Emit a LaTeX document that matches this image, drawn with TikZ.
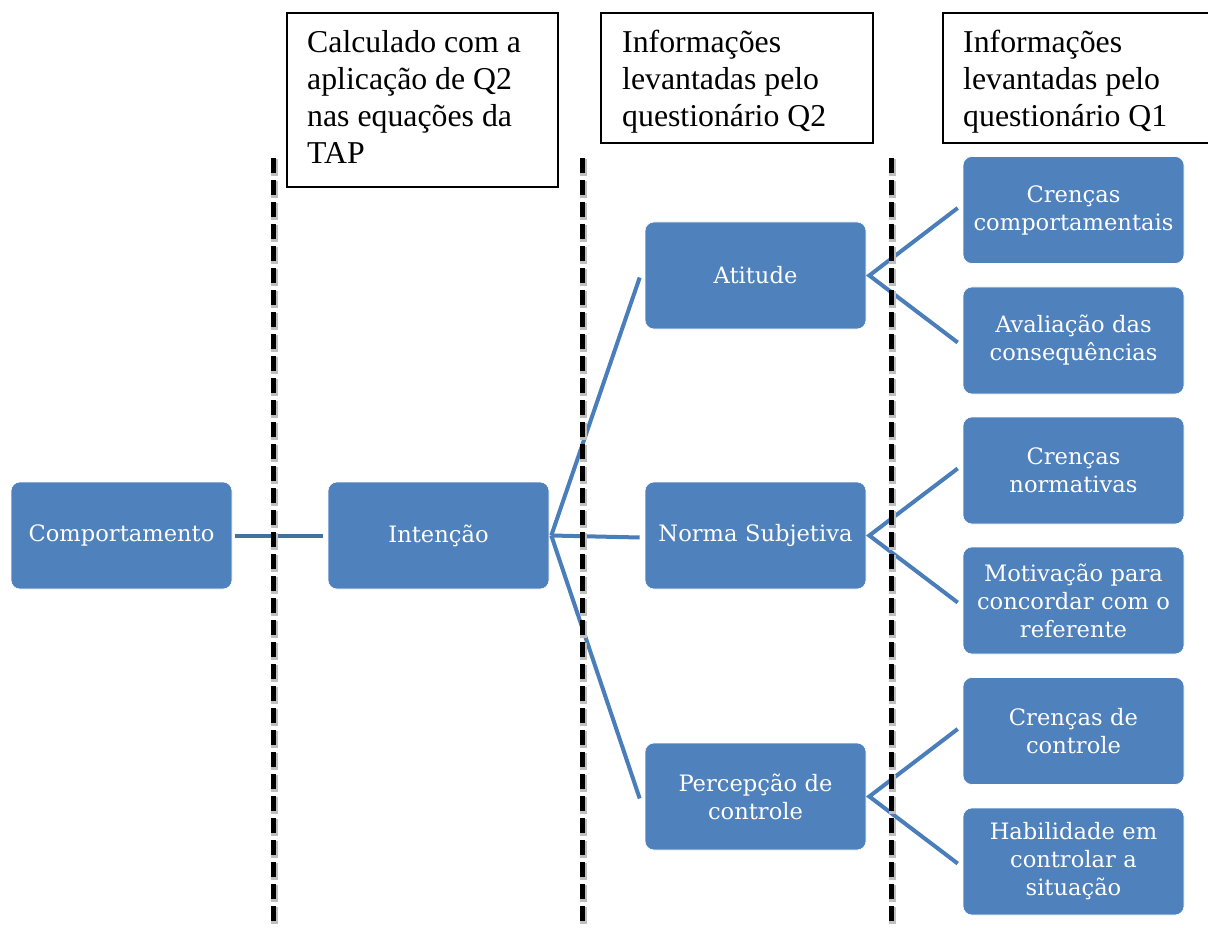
\documentclass[tikz,border=0pt]{standalone}
\usepackage{fontspec}
\usetikzlibrary{calc}
\setmainfont{Liberation Serif}
\newfontfamily\boxfont{DejaVu Serif}
\definecolor{boxblue}{HTML}{4F81BD}
\definecolor{linkblue}{HTML}{4A7EBB}
\definecolor{spineblue}{HTML}{41719C}

\begin{document}
\begin{tikzpicture}[x=1pt,y=-1pt,
  item/.style={rounded corners=9pt, fill=boxblue, draw=white, line width=0.6pt,
    minimum width=221pt, minimum height=107pt, inner sep=3pt, text width=215pt,
    align=center, text=white, font=\boxfont\fontsize{22.6}{28}\selectfont},
  link/.style={draw=linkblue, line width=4pt},
  divider/.style={line width=5pt, dash pattern=on 15pt off 7pt},
  dividershade/.style={line width=7pt, draw=black!25, dash pattern=on 17pt off 5pt},
  note/.style={draw=black, line width=1.6pt},
  notetext/.style={anchor=north west, align=left, inner sep=0pt,
    font=\fontsize{31.8}{37}\selectfont}
]
\useasboundingbox (0,0) rectangle (1208,928);

% explanatory notes above the columns
\draw[note] (287,13) rectangle (558,187);
\node[notetext] (n1) at (307,30) {Calculado com a\\aplicação de Q2\\nas equações da\\TAP};
\draw[note] (601,13) rectangle (873,143);
\node[notetext] (n2) at (622,30) {Informações\\levantadas pelo\\questionário Q2};
\draw[note] (1210,13) -- (943,13) -- (943,143) -- (1210,143);
\node[notetext] (n3) at (963,30) {Informações\\levantadas pelo\\questionário Q1};

% boxes
\node[item] (comp) at (121.5,535.5) {Comportamento};
\node[item] (int)  at (438.5,535.5) {Intenção};
\node[item] (att)  at (755.5,275.5) {Atitude};
\node[item] (norm) at (755.5,535.5) {Norma Subjetiva};
\node[item] (perc) at (755.5,796.5) {Percepção de\\controle};

\node[item] (cc) at (1073.5,210)   {Crenças\\comportamentais};
\node[item] (ac) at (1073.5,340.5) {Avaliação das\\consequências};
\node[item] (cn) at (1073.5,470.5) {Crenças\\normativas};
\node[item] (mc) at (1073.5,600.5) {Motivação para\\concordar com o\\referente};
\node[item] (ck) at (1073.5,731)   {Crenças de\\controle};
\node[item] (hc) at (1073.5,861.5) {Habilidade em\\controlar a\\situação};

% hubs of the fans
\coordinate (hint)  at ($(int.east)+(2,0)$);
\coordinate (hatt)  at ($(att.east)+(3,0)$);
\coordinate (hnorm) at ($(norm.east)+(3,0)$);
\coordinate (hperc) at ($(perc.east)+(3,0)$);

% connectors
\draw[link, draw=spineblue] ($(comp.east)+(3,0)$) -- ($(int.west)+(-5,0)$);
\foreach \t in {att,norm,perc}
  \draw[link] (hint) -- ($(\t.west)+(-5,2)$);
\foreach \h/\a/\b in {hatt/cc/ac, hnorm/cn/mc, hperc/ck/hc}{
  \draw[link] ($(\a.west)+(-5,-2)$) -- (\h) -- ($(\b.west)+(-5,2)$);
}

% column dividers
\foreach \x in {273,582,891}{
  \draw[dividershade] (\x+1.5,159) -- (\x+1.5,930);
  \draw[divider] (\x,158) -- (\x,930);
}
\end{tikzpicture}
\end{document}
